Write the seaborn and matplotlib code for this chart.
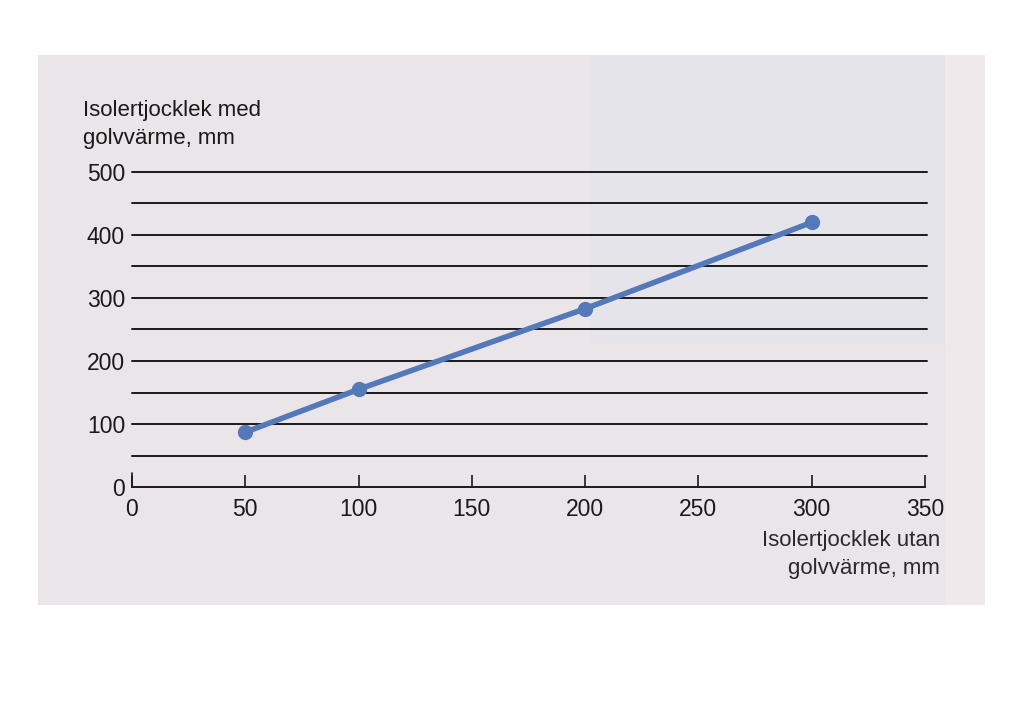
import matplotlib
matplotlib.use("Agg")
import matplotlib.pyplot as plt
import seaborn as sns
import pandas as pd
from matplotlib.patches import Rectangle

# Data
utan_golvvarme = [50, 100, 200, 300]          # x: Isolertjocklek utan golvvärme, mm
med_golvvarme = [87, 155, 283, 420]           # y: Isolertjocklek med golvvärme, mm
x_ticks = [0, 50, 100, 150, 200, 250, 300, 350]
y_ticks = [0, 100, 200, 300, 400, 500]
grid_levels = [50, 100, 150, 200, 250, 300, 350, 400, 450, 500]

df = pd.DataFrame({"utan": utan_golvvarme, "med": med_golvvarme})

sns.set_theme(style="white")
plt.rcParams["font.family"] = ["Liberation Sans", "DejaVu Sans"]

fig = plt.figure(figsize=(10.24, 7.15), dpi=100, facecolor="white")

# scanned paper background
fig.patches.append(Rectangle((38 / 1024, 1 - 605 / 715), (985 - 38) / 1024, (605 - 55) / 715,
                             transform=fig.transFigure, facecolor="#e9e5e8", edgecolor="none", zorder=-2))
fig.patches.append(Rectangle((945 / 1024, 1 - 605 / 715), (985 - 945) / 1024, (605 - 55) / 715,
                             transform=fig.transFigure, facecolor="#efe9ec", edgecolor="none", zorder=-2))
fig.patches.append(Rectangle((590 / 1024, 1 - 345 / 715), (945 - 590) / 1024, (345 - 55) / 715,
                             transform=fig.transFigure, facecolor="#e6e4eb", edgecolor="none", zorder=-2))

ax = fig.add_axes([132 / 1024, 1 - 487 / 715, 793 / 1024, 315 / 715])
ax.set_facecolor("none")
ax.set_zorder(2)

for lvl in grid_levels:
    ax.plot([0, 351], [lvl, lvl], color="#1a1a1a", lw=1.4, zorder=1, clip_on=False)

sns.lineplot(data=df, x="utan", y="med", ax=ax, color="#5579b8", lw=4,
             marker="o", markersize=11, markeredgewidth=0, zorder=3)

ax.set_xlim(0, 350)
ax.set_ylim(0, 500)
ax.set_xticks(x_ticks)
ax.set_yticks(y_ticks)
ax.set_xticklabels([str(v) for v in x_ticks], fontsize=16.5, color="#1a1a1a")
ax.set_yticklabels([str(v) for v in y_ticks], fontsize=16.5, color="#1a1a1a")
ax.tick_params(axis="x", direction="in", length=9, width=1.2, color="#1a1a1a", pad=8, bottom=True)
ax.tick_params(axis="y", length=0, pad=5, left=False)

for s in ["top", "right", "left"]:
    ax.spines[s].set_visible(False)
ax.spines["bottom"].set_color("#1a1a1a")
ax.spines["bottom"].set_linewidth(1.4)
ax.plot([0, 0], [0, 22], color="#1a1a1a", lw=1.2, clip_on=False)

ax.set_xlabel("")
ax.set_ylabel("")

fig.text(83 / 1024, 1 - 100 / 715, "Isolertjocklek med\ngolvvärme, mm", fontsize=16,
         ha="left", va="top", color="#1a1a1a", linespacing=1.45)
fig.text(940 / 1024, 1 - 530 / 715, "Isolertjocklek utan\ngolvvärme, mm", fontsize=16,
         ha="right", va="top", color="#2a2a2a", linespacing=1.45)

fig.savefig("out.png", dpi=100, facecolor="white")
